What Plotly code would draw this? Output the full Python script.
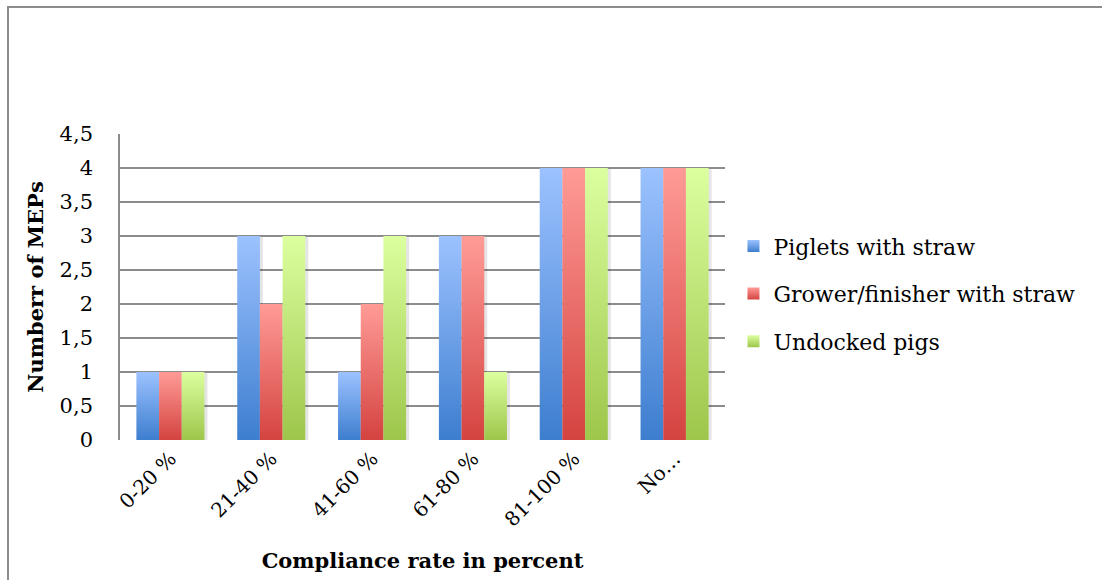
import plotly.graph_objects as go

# Compliance categories and counts of MEPs per group
categories = ["0-20 %", "21-40 %", "41-60 %", "61-80 %", "81-100 %", "No…"]
piglets_with_straw = [1, 3, 1, 3, 4, 4]
grower_finisher_with_straw = [1, 2, 2, 3, 4, 4]
undocked_pigs = [1, 3, 3, 1, 4, 4]

series_names = ["Piglets with straw", "Grower/finisher with straw", "Undocked pigs"]
# (bottom colour, top colour) for each series' vertical gradient
series_colors = [("#3d7ecf", "#9cc2ff"), ("#d44340", "#ff9b96"), ("#9dc64b", "#dcff9f")]

y_ticks = [0, 0.5, 1, 1.5, 2, 2.5, 3, 3.5, 4, 4.5]
y_tick_text = [str(v).replace(".", ",") for v in y_ticks]

SERIF = "DejaVu Serif"
BAR_W = 0.225  # width of one bar in category units

fig = go.Figure()

all_series = [piglets_with_straw, grower_finisher_with_straw, undocked_pigs]
for s, (name, values) in enumerate(zip(series_names, all_series)):
    bottom, top = series_colors[s]
    for i, v in enumerate(values):
        x0 = i + (s - 1.5) * BAR_W
        x1 = x0 + BAR_W
        # soft drop shadow to the right of each bar
        fig.add_trace(go.Scatter(
            x=[x0 + 0.03, x1 + 0.03, x1 + 0.03, x0 + 0.03, x0 + 0.03],
            y=[0, 0, v - 0.02, v - 0.02, 0],
            fill="toself", mode="none", fillcolor="rgba(0,0,0,0.10)",
            showlegend=False, hoverinfo="skip",
        ))
        fig.add_trace(go.Scatter(
            x=[x0, x1, x1, x0, x0],
            y=[0, 0, v, v, 0],
            fill="toself", mode="none",
            fillgradient=dict(type="vertical", colorscale=[[0, bottom], [1, top]]),
            name=name, legendgroup=name, showlegend=False,
            hovertemplate=f"{name}<br>{categories[i]}: {v}<extra></extra>",
        ))

# legend entries with small gradient squares
for s, name in enumerate(series_names):
    bottom, top = series_colors[s]
    fig.add_trace(go.Scatter(
        x=[None], y=[None], mode="markers", name=name, legendgroup=name,
        marker=dict(symbol="square", size=14, color=top,
                    gradient=dict(type="vertical", color=bottom), line=dict(width=0)),
    ))

fig.update_layout(
    width=1102, height=580,
    margin=dict(l=120, r=377, t=134, b=140),
    paper_bgcolor="white", plot_bgcolor="white",
    font=dict(family=SERIF, color="black", size=19),
    showlegend=True,
    legend=dict(
        x=1.014, y=0.702, xanchor="left", yanchor="top",
        font=dict(family=SERIF, size=22),
        tracegroupgap=16, itemsizing="constant",
        bgcolor="rgba(0,0,0,0)",
    ),
    xaxis=dict(
        range=[-0.5, 5.5], tickmode="array",
        tickvals=list(range(len(categories))), ticktext=categories,
        tickangle=-45, showgrid=False, zeroline=False,
        showline=False, ticks="", ticklabelstandoff=2,
        tickfont=dict(family=SERIF, size=20),
        title=dict(text="<b>Compliance rate in percent</b>",
                   font=dict(family=SERIF, size=21), standoff=22),
        fixedrange=True,
    ),
    yaxis=dict(
        range=[0, 4.5], tickmode="array", tickvals=y_ticks, ticktext=y_tick_text,
        showgrid=True, gridcolor="#8c8c8c", gridwidth=1.6,
        zeroline=False, showline=True, linecolor="#8c8c8c", linewidth=1.6,
        ticks="", ticklabelstandoff=21,
        tickfont=dict(family=SERIF, size=21),
        title=dict(text="<b>Numberr of MEPs</b>",
                   font=dict(family=SERIF, size=21), standoff=10),
        fixedrange=True,
    ),
    shapes=[
        # outer chart frame
        dict(type="rect", xref="paper", yref="paper",
             x0=(8 - 120) / 605, x1=(1115 - 120) / 605,
             y0=(440 - 600) / 306, y1=(440 - 7) / 306,
             line=dict(color="#8c8c8c", width=2), layer="below"),
    ],
)

fig.write_html("out.html")
